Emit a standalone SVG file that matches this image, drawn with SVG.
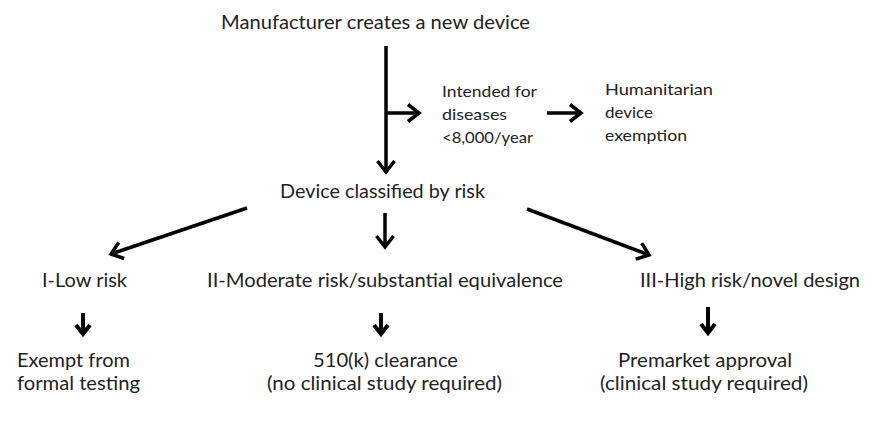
<svg xmlns="http://www.w3.org/2000/svg" width="882" height="427" viewBox="0 0 882 427">
  <style>
    text { font-family: Lato, "Liberation Sans", sans-serif; fill: #222; }
    .main { font-size: 19px; }
    .side { font-size: 15px; }
    .conn { stroke: #000; stroke-width: 3.5; fill: none; marker-end: url(#chev); }
    .short { stroke: #000; stroke-width: 4; fill: none; marker-end: url(#chevBold); }
  </style>
  <defs>
    <marker id="chev" markerUnits="userSpaceOnUse" viewBox="-14 -10 18 20" refX="0" refY="0" markerWidth="18" markerHeight="20" orient="auto" overflow="visible">
      <path d="M -11,-8.5 L 0,0 L -11,8.5" fill="none" stroke="#000" stroke-width="3.5" stroke-linejoin="miter" stroke-linecap="butt"/>
    </marker>
    <marker id="chevBold" markerUnits="userSpaceOnUse" viewBox="-14 -10 18 20" refX="0" refY="0" markerWidth="18" markerHeight="20" orient="auto" overflow="visible">
      <path d="M -9,-7 L 0,0 L -9,7" fill="none" stroke="#000" stroke-width="4" stroke-linejoin="miter" stroke-linecap="butt"/>
    </marker>
  </defs>

  <rect width="882" height="427" fill="#fff"/>

  <!-- connectors -->
  <g id="connectors">
    <line class="conn" x1="386" y1="46" x2="386" y2="172"/>
    <line class="conn" x1="386" y1="113" x2="419" y2="113"/>
    <line class="conn" x1="547" y1="113" x2="581" y2="113"/>
    <line class="conn" x1="247" y1="208" x2="111" y2="254"/>
    <line class="conn" x1="385" y1="213" x2="385" y2="247"/>
    <line class="conn" x1="527" y1="209" x2="649" y2="255"/>
    <line class="short" x1="83" y1="313" x2="83" y2="334"/>
    <line class="short" x1="381" y1="313" x2="381" y2="334"/>
    <line class="short" x1="708" y1="307" x2="708" y2="333"/>
  </g>

  <!-- nodes -->
  <g id="start">
    <text class="main" x="221" y="29" textLength="309" lengthAdjust="spacingAndGlyphs">Manufacturer creates a new device</text>
  </g>
  <g id="rare-disease">
    <text class="side" x="442" y="97" textLength="95" lengthAdjust="spacingAndGlyphs">Intended for</text>
    <text class="side" x="442" y="120" textLength="65" lengthAdjust="spacingAndGlyphs">diseases</text>
    <text class="side" x="442" y="143" textLength="91" lengthAdjust="spacingAndGlyphs">&lt;8,000/year</text>
  </g>
  <g id="hde">
    <text class="side" x="605" y="95" textLength="108" lengthAdjust="spacingAndGlyphs">Humanitarian</text>
    <text class="side" x="605" y="118" textLength="48" lengthAdjust="spacingAndGlyphs">device</text>
    <text class="side" x="605" y="141" textLength="82" lengthAdjust="spacingAndGlyphs">exemption</text>
  </g>
  <g id="classified">
    <text class="main" x="280" y="198" textLength="205" lengthAdjust="spacingAndGlyphs">Device classified by risk</text>
  </g>
  <g id="class-1">
    <text class="main" x="42" y="287" textLength="85" lengthAdjust="spacingAndGlyphs">I-Low risk</text>
  </g>
  <g id="class-2">
    <text class="main" x="207" y="287" textLength="356" lengthAdjust="spacingAndGlyphs">II-Moderate risk/substantial equivalence</text>
  </g>
  <g id="class-3">
    <text class="main" x="640" y="287" textLength="220" lengthAdjust="spacingAndGlyphs">III-High risk/novel design</text>
  </g>
  <g id="exempt">
    <text class="main" x="17" y="367" textLength="113" lengthAdjust="spacingAndGlyphs">Exempt from</text>
    <text class="main" x="17" y="390" textLength="123" lengthAdjust="spacingAndGlyphs">formal testing</text>
  </g>
  <g id="clearance">
    <text class="main" x="313" y="367" textLength="145" lengthAdjust="spacingAndGlyphs">510(k)  clearance</text>
    <text class="main" x="267" y="390" textLength="235" lengthAdjust="spacingAndGlyphs">(no clinical study required)</text>
  </g>
  <g id="pma">
    <text class="main" x="618" y="367" textLength="174" lengthAdjust="spacingAndGlyphs">Premarket approval</text>
    <text class="main" x="600" y="390" textLength="208" lengthAdjust="spacingAndGlyphs">(clinical study required)</text>
  </g>
</svg>
